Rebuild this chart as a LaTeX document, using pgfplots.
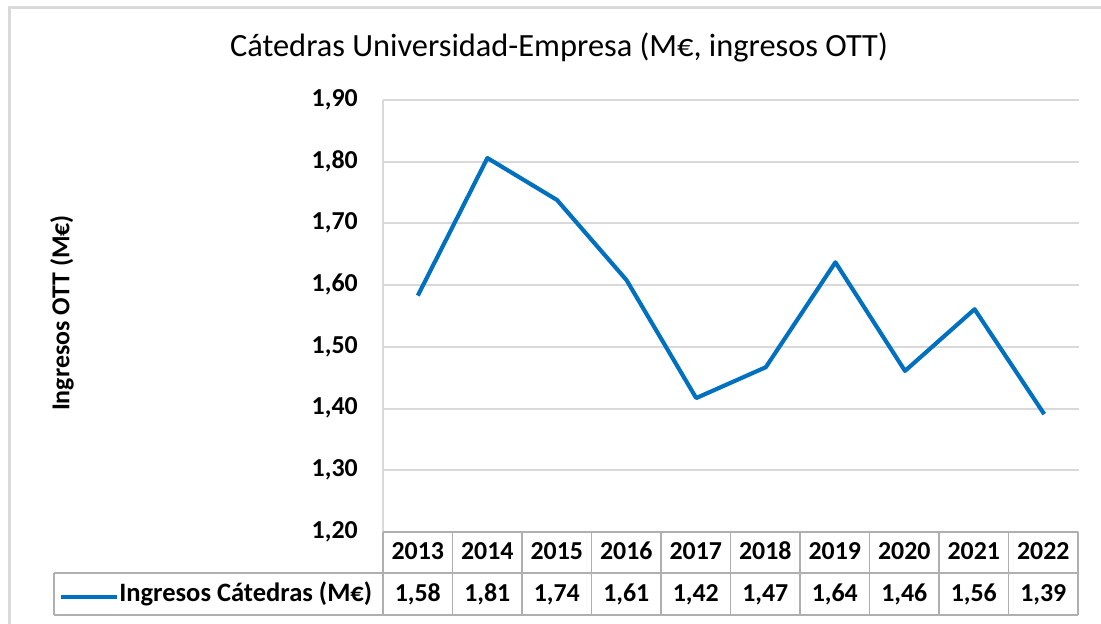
\documentclass[border=0pt]{standalone}
\usepackage{pgfplots}
\pgfplotsset{compat=1.18}
\usepackage{fontspec}
\setmainfont{Carlito}
\definecolor{lineblue}{RGB}{0,112,192}
\definecolor{gridc}{RGB}{217,217,217}
\definecolor{tabc}{RGB}{175,175,175}
\begin{document}
\begin{tikzpicture}[x=0.75pt,y=0.75pt]
\useasboundingbox (0,0) rectangle (1101,624);
\fill[white] (0,0) rectangle (1101,624);
\draw[gridc, line width=2.25pt] (9,-20) -- (9,616.5) -- (1120,616.5);
\begin{axis}[
  at={(287.25pt,69pt)}, anchor=south west,
  width=522pt, height=324pt, scale only axis,
  xmin=0, xmax=10, ymin=1.2, ymax=1.9,
  ytick={1.2,1.3,1.4,1.5,1.6,1.7,1.8,1.9},
  xtick=\empty,
  axis x line=none,
  axis y line*=left,
  y axis line style={gridc, line width=1.5pt},
  ymajorgrids,
  grid style={gridc, line width=1.5pt},
  major tick length=0pt,
  yticklabel style={font=\bfseries\fontsize{19.4}{22}\selectfont, anchor=east, inner sep=0pt, xshift=-18.75pt, yshift=-1.5pt,
    text height=0.65em, text depth=0pt,
    /pgf/number format/.cd, fixed, fixed zerofill, precision=2, use comma, assume math mode=true},
]
\addplot[lineblue, line width=3.1pt, line join=round] coordinates {
(0.5,1.583) (1.5,1.806) (2.5,1.738) (3.5,1.608) (4.5,1.417)
(5.5,1.467) (6.5,1.637) (7.5,1.461) (8.5,1.561) (9.5,1.391)};
\end{axis}
% title and y label
\node[font=\fontsize{24.3}{28}\selectfont] at (559,577) {Cátedras Universidad-Empresa (M€, ingresos OTT)};
\node[rotate=90, font=\bfseries\fontsize{19.4}{22}\selectfont] at (62,311) {Ingresos OTT (M€)};
% data table
\begin{scope}[tabc, line width=1.2pt]
\draw (383,92) -- (1078,92);
\draw (54,51) -- (1078,51);
\draw (54,9) -- (1078,9);
\draw (54,51) -- (54,9);
\draw (383,92) -- (383,9);
\foreach \i in {1,...,10} \draw (383+\i*69.5,92) -- (383+\i*69.5,9);
\end{scope}
\draw[lineblue, line width=3.1pt] (61,27) -- (117,27);
\node[anchor=west, inner sep=0pt, text height=0.68em, text depth=0pt, font=\bfseries\fontsize{19.9}{22}\selectfont] at (119,27) {Ingresos Cátedras (M€)};
\foreach \yr/\a/\b [count=\i] in {2013/1/58,2014/1/81,2015/1/74,2016/1/61,2017/1/42,2018/1/47,2019/1/64,2020/1/46,2021/1/56,2022/1/39} {
  \node[font=\bfseries\fontsize{19.4}{22}\selectfont, text height=0.65em, text depth=0pt, inner sep=0pt] at (383+\i*69.5-34.75,68.5) {\yr};
  \node[font=\bfseries\fontsize{19.4}{22}\selectfont, text height=0.65em, text depth=0pt, inner sep=0pt] at (383+\i*69.5-34.75,27) {\a,\b};
}
\end{tikzpicture}
\end{document}
